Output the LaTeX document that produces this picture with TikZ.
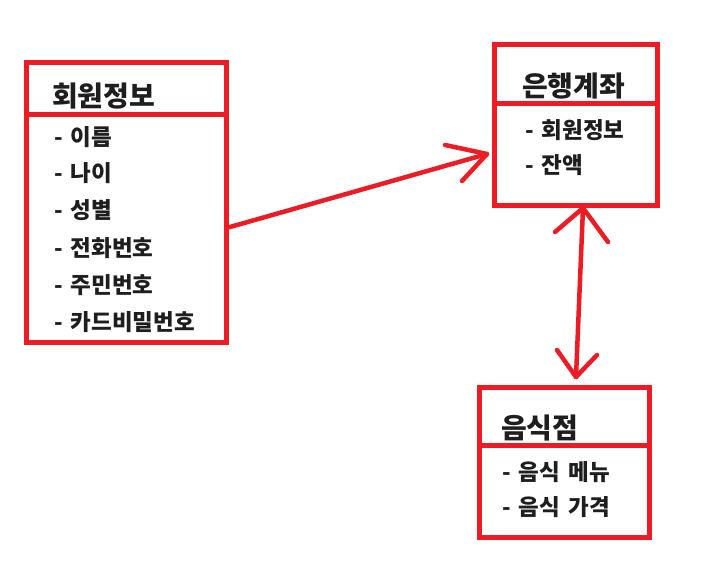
\documentclass[tikz,border=0pt]{standalone}
\usepackage{fontspec}
\newfontfamily\kr{Noto Sans CJK KR}
\usetikzlibrary{calc}
\definecolor{pred}{HTML}{ED1C24}
\definecolor{ink}{HTML}{1E1E1E}
\tikzset{
  umlbox/.style={draw=pred, line width=5pt, rectangle, outer sep=0pt, inner sep=0pt},
  divider/.style={draw=pred, line width=5pt},
  conn/.style={draw=pred, line width=4.5pt, line cap=round, line join=round},
  titletext/.style={anchor=west, inner sep=0pt, text=ink, font=\kr\bfseries\fontsize{28}{32}\selectfont},
  itemtext/.style={anchor=west, inner sep=0pt, text=ink, font=\kr\bfseries\fontsize{22.5}{26}\selectfont}
}
\newcommand{\itm}[1]{-\hspace{8pt}#1}
\begin{document}
\begin{tikzpicture}[x=1pt,y=-1pt]
\useasboundingbox (0,0) rectangle (715,577);
\fill[white] (0,0) rectangle (715,577);
% boxes
\node[umlbox, minimum width=200pt, minimum height=280pt] (b1) at (126.5,203) {};
\node[umlbox, minimum width=162.5pt, minimum height=161pt] (b2) at (575.75,125) {};
\node[umlbox, minimum width=170pt, minimum height=150pt] (b3) at (564.5,462.5) {};
% dividers
\draw[divider] ([yshift=-52pt]b1.north west) -- ([yshift=-52pt]b1.north east);
\draw[divider] ([yshift=-59pt]b2.north west) -- ([yshift=-59pt]b2.north east);
\draw[divider] ([yshift=-57.5pt]b3.north west) -- ([yshift=-57.5pt]b3.north east);
% texts box 1
\node[titletext] (t1) at (52,96) {회원정보};
\node[itemtext] (i11) at (54,137) {\itm{이름}};
\node[itemtext] (i12) at (54,173) {\itm{나이}};
\node[itemtext] (i13) at (54,210) {\itm{성별}};
\node[itemtext] (i14) at (54,248) {\itm{전화번호}};
\node[itemtext] (i15) at (54,285) {\itm{주민번호}};
\node[itemtext] (i16) at (54,322) {\itm{카드비밀번호}};
% texts box 2
\node[titletext] (t2) at (522,86) {은행계좌};
\node[itemtext] (i21) at (525,130) {\itm{회원정보}};
\node[itemtext] (i22) at (525,165) {\itm{잔액}};
% texts box 3
\node[titletext] (t3) at (501,428) {음식점};
\node[itemtext] (i31) at (502,472) {\itm{음식\hspace{3pt} 메뉴}};
\node[itemtext] (i32) at (502,507) {\itm{음식\hspace{3pt} 가격}};
% connector 1
\coordinate (a1s) at ([yshift=-25pt]b1.east);
\coordinate (a1t) at ([xshift=-7.5pt,yshift=-29pt]b2.west);
\draw[conn] (a1s) -- (a1t);
\draw[conn] ($(a1t)+(-42,-9)$) -- (a1t) -- ($(a1t)+(-25,27)$);
% connector 2
\coordinate (a2t) at ([xshift=7.25pt,yshift=-2.5pt]b2.south);
\coordinate (a2b) at ([xshift=11.5pt,yshift=10.5pt]b3.north);
\draw[conn] (a2t) -- (a2b);
\draw[conn] ($(a2t)+(-28,24)$) -- (a2t) -- ($(a2t)+(25,34)$);
\draw[conn] ($(a2b)+(-19,-27)$) -- (a2b) -- ($(a2b)+(21,-22)$);
\end{tikzpicture}
\end{document}
